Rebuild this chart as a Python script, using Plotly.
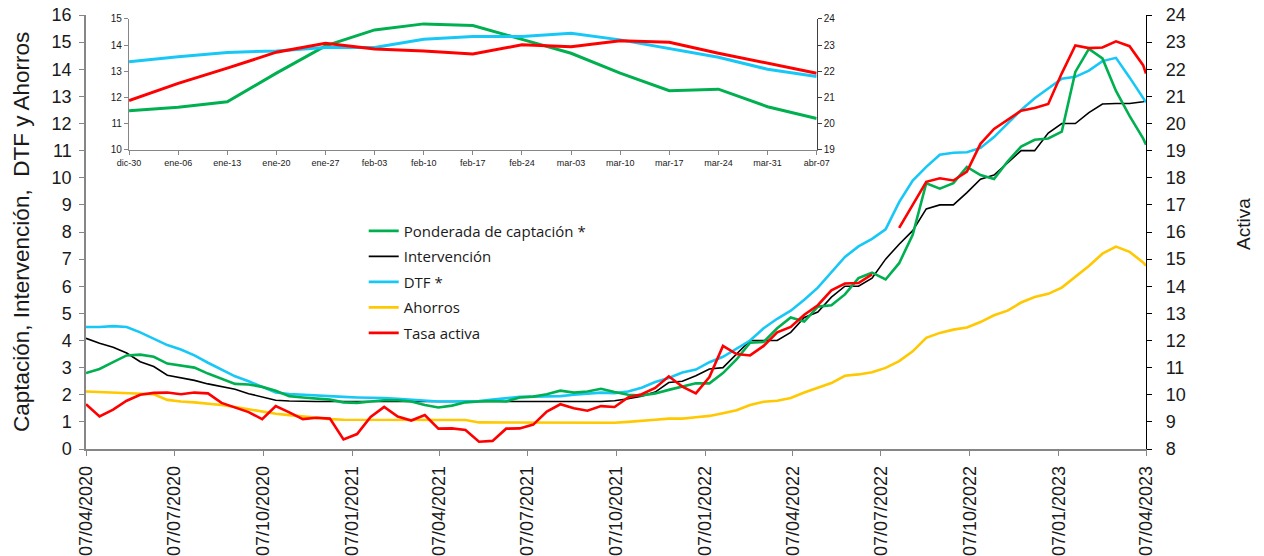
import pandas as pd
import plotly.graph_objects as go

# ---------------- data (main chart, biweekly readings) ----------------
dates = pd.date_range("2020-04-07", periods=79, freq="14D").tolist() + [pd.Timestamp("2023-04-07")]

captacion = [2.8, 2.95, 3.2, 3.45, 3.48, 3.4, 3.15, 3.07, 3.0, 2.78,
             2.6, 2.4, 2.38, 2.29, 2.15, 1.95, 1.9, 1.85, 1.82, 1.72,
             1.7, 1.75, 1.8, 1.8, 1.75, 1.62, 1.53, 1.6, 1.72, 1.75,
             1.77, 1.75, 1.9, 1.93, 2.02, 2.15, 2.08, 2.12, 2.22, 2.1,
             2.0, 1.97, 2.05, 2.18, 2.3, 2.42, 2.42, 2.8, 3.3, 3.92,
             3.95, 4.45, 4.85, 4.7, 5.25, 5.3, 5.7, 6.3, 6.5, 6.25,
             6.85, 7.9, 9.8, 9.6, 9.8, 10.4, 10.1, 9.95, 10.6, 11.15,
             11.4, 11.45, 11.7, 13.9, 14.75, 14.4, 13.2, 12.28, 11.45, 11.22]

intervencion = [4.08, 3.9, 3.75, 3.54, 3.22, 3.04, 2.72, 2.62, 2.53, 2.4,
                2.3, 2.2, 2.04, 1.92, 1.8, 1.77, 1.75, 1.75, 1.75, 1.75,
                1.75, 1.75, 1.75, 1.75, 1.75, 1.75, 1.75, 1.75, 1.75, 1.75,
                1.75, 1.75, 1.75, 1.75, 1.75, 1.75, 1.75, 1.75, 1.75, 1.78,
                1.85, 1.95, 2.1, 2.45, 2.5, 2.7, 2.95, 3.0, 3.5, 4.0,
                4.0, 4.0, 4.3, 4.85, 5.05, 5.6, 6.0, 6.0, 6.3, 7.0,
                7.55, 8.05, 8.85, 9.0, 9.0, 9.45, 9.95, 10.1, 10.55, 11.0,
                11.0, 11.65, 12.0, 12.0, 12.4, 12.72, 12.74, 12.74, 12.8, 12.84]

dtf = [4.5, 4.5, 4.53, 4.5, 4.3, 4.05, 3.83, 3.67, 3.45, 3.18,
       2.92, 2.68, 2.5, 2.28, 2.08, 2.03, 2.0, 1.96, 1.93, 1.92,
       1.9, 1.9, 1.88, 1.85, 1.82, 1.77, 1.75, 1.75, 1.75, 1.77,
       1.82, 1.88, 1.92, 1.93, 1.93, 1.95, 2.0, 2.05, 2.08, 2.06,
       2.12, 2.26, 2.47, 2.62, 2.82, 2.93, 3.2, 3.4, 3.7, 4.0,
       4.45, 4.8, 5.1, 5.5, 5.95, 6.53, 7.08, 7.47, 7.75, 8.1,
       9.1, 9.9, 10.4, 10.85, 10.92, 10.94, 11.1, 11.5, 12.0, 12.5,
       12.93, 13.3, 13.65, 13.72, 13.95, 14.3, 14.42, 13.7, 12.95, 12.78]

ahorros = [2.12, 2.1, 2.08, 2.05, 2.05, 2.02, 1.81, 1.75, 1.72, 1.68,
           1.62, 1.55, 1.47, 1.4, 1.3, 1.25, 1.2, 1.15, 1.1, 1.08,
           1.08, 1.07, 1.07, 1.07, 1.07, 1.07, 1.07, 1.07, 1.07, 0.98,
           0.98, 0.98, 0.98, 0.98, 0.98, 0.98, 0.98, 0.98, 0.98, 0.97,
           1.0, 1.03, 1.08, 1.12, 1.12, 1.17, 1.22, 1.32, 1.43, 1.62,
           1.74, 1.78, 1.88, 2.08, 2.25, 2.43, 2.7, 2.75, 2.83, 2.99,
           3.24, 3.6, 4.1, 4.28, 4.4, 4.48, 4.68, 4.93, 5.1, 5.4,
           5.6, 5.72, 5.95, 6.35, 6.75, 7.2, 7.46, 7.27, 6.88, 6.76]

# Tasa activa, read on the right axis (Activa)
activa = [9.65, 9.2, 9.45, 9.78, 10.0, 10.07, 10.08, 10.02, 10.08, 10.05,
          9.7, 9.52, 9.36, 9.1, 9.58, 9.35, 9.1, 9.15, 9.12, 8.35,
          8.55, 9.18, 9.55, 9.2, 9.05, 9.25, 8.75, 8.76, 8.7, 8.27,
          8.3, 8.75, 8.76, 8.9, 9.38, 9.65, 9.5, 9.41, 9.58, 9.55,
          9.9, 10.02, 10.25, 10.68, 10.3, 10.05, 10.65, 11.8, 11.5, 11.45,
          11.8, 12.3, 12.5, 12.95, 13.3, 13.85, 14.1, 14.12, 14.44, None,
          16.15, 17.0, 17.85, 17.98, 17.9, 18.23, 19.25, 19.8, 20.14, 20.47,
          20.57, 20.72, 21.85, 22.88, 22.78, 22.8, 23.03, 22.85, 22.15, 21.84]

tick_dates = ["2020-04-07", "2020-07-07", "2020-10-07", "2021-01-07", "2021-04-07",
              "2021-07-07", "2021-10-07", "2022-01-07", "2022-04-07", "2022-07-07",
              "2022-10-07", "2023-01-07", "2023-04-07"]
tick_labels = ["07/04/2020", "07/07/2020", "07/10/2020", "07/01/2021", "07/04/2021",
               "07/07/2021", "07/10/2021", "07/01/2022", "07/04/2022", "07/07/2022",
               "07/10/2022", "07/01/2023", "07/04/2023"]

# ---------------- data (inset, weekly) ----------------
inset_labels = ["dic-30", "ene-06", "ene-13", "ene-20", "ene-27", "feb-03", "feb-10",
                "feb-17", "feb-24", "mar-03", "mar-10", "mar-17", "mar-24", "mar-31", "abr-07"]
inset_captacion = [11.5, 11.63, 11.84, 12.93, 13.97, 14.58, 14.81, 14.75, 14.22, 13.69,
                   12.93, 12.26, 12.32, 11.65, 11.2]
inset_dtf = [13.37, 13.56, 13.72, 13.78, 13.91, 13.91, 14.22, 14.33, 14.33, 14.45,
             14.2, 13.88, 13.54, 13.08, 12.8]
inset_activa = [20.88, 21.54, 22.12, 22.73, 23.07, 22.85, 22.78, 22.66, 23.01, 22.94,
                23.17, 23.11, 22.69, 22.31, 21.93]

GREEN = "#00B050"
CYAN = "#17C8F7"
YELLOW = "#FFC800"
RED = "#FF0000"
BLACK = "#000000"
AX = "#868686"
TXT = "#1a1a1a"
FONT = "Arial, Liberation Sans, sans-serif"

fig = go.Figure()

fig.add_trace(go.Scatter(x=dates, y=ahorros, name="Ahorros", mode="lines",
                         line=dict(color=YELLOW, width=2.6), legendrank=4, legendgroup="d"))
fig.add_trace(go.Scatter(x=dates, y=intervencion, name="Intervención", mode="lines",
                         line=dict(color=BLACK, width=1.6), legendrank=2, legendgroup="b"))
fig.add_trace(go.Scatter(x=dates, y=dtf, name="DTF *", mode="lines",
                         line=dict(color=CYAN, width=2.6), legendrank=3, legendgroup="c"))
fig.add_trace(go.Scatter(x=dates, y=captacion, name="Ponderada de captación *", mode="lines",
                         line=dict(color=GREEN, width=2.6), legendrank=1, legendgroup="a"))
fig.add_trace(go.Scatter(x=dates, y=activa, name="Tasa activa", mode="lines", yaxis="y4",
                         line=dict(color=RED, width=2.6), legendrank=5, legendgroup="e",
                         connectgaps=False))

# inset
fig.add_trace(go.Scatter(x=inset_labels, y=inset_captacion, mode="lines", xaxis="x2", yaxis="y2",
                         line=dict(color=GREEN, width=3), showlegend=False))
fig.add_trace(go.Scatter(x=inset_labels, y=inset_dtf, mode="lines", xaxis="x2", yaxis="y2",
                         line=dict(color=CYAN, width=3), showlegend=False))
fig.add_trace(go.Scatter(x=inset_labels, y=inset_activa, mode="lines", xaxis="x2", yaxis="y3",
                         line=dict(color=RED, width=3), showlegend=False))

fig.update_layout(
    width=1264, height=556,
    margin=dict(l=86, r=118, t=15, b=107, autoexpand=False),
    paper_bgcolor="white", plot_bgcolor="white",
    font=dict(family=FONT, color=TXT),
    xaxis=dict(domain=[0, 1], type="date", range=["2020-04-07", "2023-04-07"],
               tickvals=tick_dates, ticktext=tick_labels, tickangle=-90, automargin=False,
               ticks="outside", ticklen=5, tickcolor=AX, showline=True, linecolor=AX,
               linewidth=1.5, showgrid=False, zeroline=False, ticklabelstandoff=3,
               ticklabeloverflow="allow",
               tickfont=dict(size=18, family=FONT, color=TXT)),
    yaxis=dict(range=[0, 16], dtick=1, ticks="outside", ticklen=5, tickcolor=AX,
               showline=True, linecolor=AX, linewidth=1.5, showgrid=False, zeroline=False,
               ticklabelstandoff=4, automargin=False, ticklabeloverflow="allow",
               tickfont=dict(size=18, family=FONT, color=TXT)),
    yaxis4=dict(range=[8, 24], dtick=1, overlaying="y", side="right", anchor="x",
                ticks="outside", ticklen=5, tickcolor=BLACK, showline=True, linecolor=BLACK,
                linewidth=1.2, showgrid=False, zeroline=False, ticklabelstandoff=10,
                automargin=False, ticklabeloverflow="allow",
                tickfont=dict(size=18, family=FONT, color=TXT)),
    yaxis5=dict(range=[8, 24], dtick=1, overlaying="y", side="right", anchor="x",
                ticks="inside", ticklen=5, tickcolor=BLACK, showline=False, automargin=False,
                showticklabels=False, showgrid=False, zeroline=False),
    xaxis2=dict(domain=[0.0406, 0.6893], anchor="y2", type="category", range=[0, 14],
                ticks="outside", ticklen=4, tickcolor=AX, showline=True, linecolor=AX,
                linewidth=1.2, showgrid=False, zeroline=False, tickangle=0, automargin=False,
                ticklabeloverflow="allow",
                tickfont=dict(size=9, family=FONT, color=TXT)),
    yaxis2=dict(domain=[0.689, 0.991], anchor="x2", range=[10, 15], dtick=1,
                ticks="outside", ticklen=4, tickcolor=AX, showline=True, linecolor=AX,
                linewidth=1.2, showgrid=False, zeroline=False, automargin=False,
                ticklabeloverflow="allow",
                tickfont=dict(size=10, family=FONT, color=TXT)),
    yaxis3=dict(range=[19, 24], dtick=1, overlaying="y2", side="right", anchor="x2",
                ticks="outside", ticklen=4, tickcolor="#404040", showline=True,
                linecolor="#404040", linewidth=1.2, showgrid=False, zeroline=False,
                automargin=False, ticklabeloverflow="allow",
                tickfont=dict(size=10, family=FONT, color=TXT)),
    legend=dict(x=0.262, y=0.54, xanchor="left", yanchor="top",
                bgcolor="rgba(0,0,0,0)", font=dict(family="Open Sans, sans-serif", size=15, color=TXT),
                tracegroupgap=3, traceorder="grouped"),
    annotations=[
        dict(text="Captación, Intervención,  DTF y Ahorros", xref="paper", yref="paper",
             x=(21 - 86) / 1060, y=0.5, textangle=-90, showarrow=False,
             font=dict(size=22.5, family=FONT, color=TXT), xanchor="center", yanchor="middle"),
        dict(text="Activa", xref="paper", yref="paper",
             x=(1243 - 86) / 1060, y=(449 - 224) / 434, textangle=-90, showarrow=False,
             font=dict(size=19, family=FONT, color=TXT), xanchor="center", yanchor="middle"),
    ],
)

# remove the browser's default 8px page margin so the figure fills the window exactly,
# and hide the interactive mode bar
fig.write_html("out.html",
               config={"displayModeBar": False},
               post_script="document.body.style.margin='0';document.body.style.overflow='hidden';")
